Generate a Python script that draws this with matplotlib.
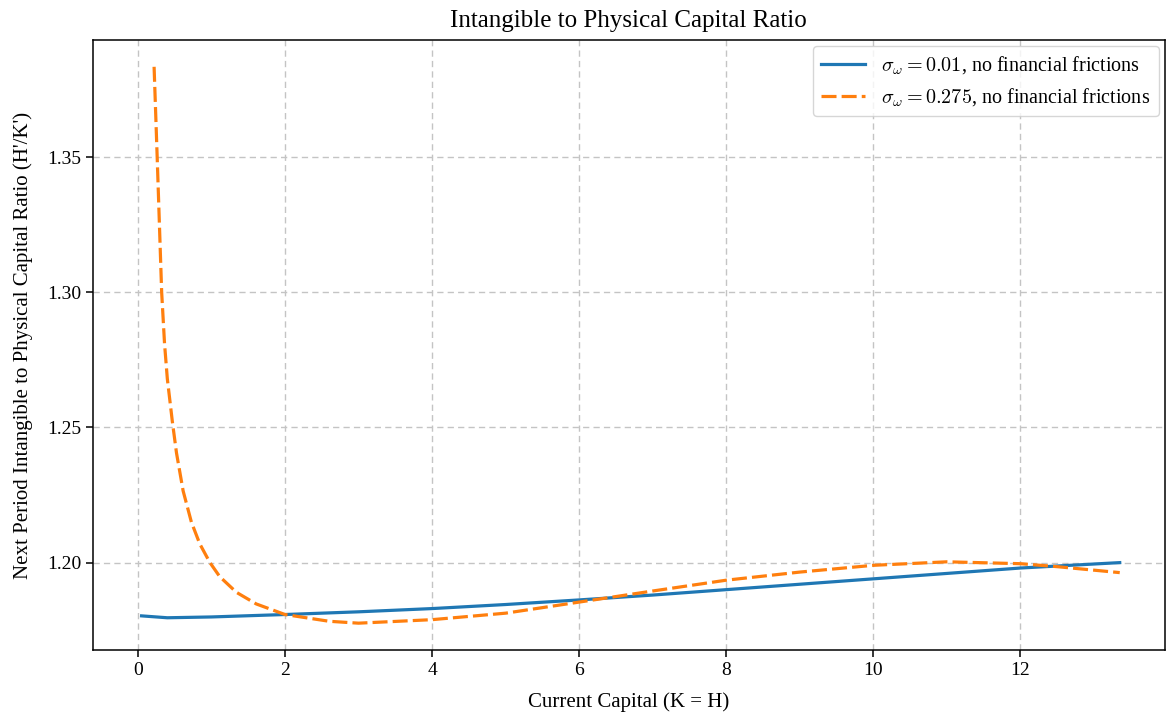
import numpy as np
import matplotlib
matplotlib.use("Agg")
import matplotlib.pyplot as plt

plt.rcParams['font.family'] = ['Liberation Serif', 'DejaVu Serif']
plt.rcParams['mathtext.fontset'] = 'cm'

# Current capital grid (K = H) and next-period H'/K'
k_low = [0.05, 0.4, 1.0, 2.0, 3.0, 4.0, 5.0, 6.0, 7.0, 8.0, 9.0, 10.0, 11.0, 12.0, 13.35]
ratio_low = [1.1803, 1.1796, 1.1799, 1.1808, 1.1818, 1.1830, 1.1845, 1.1862,
             1.1880, 1.1900, 1.1920, 1.1940, 1.1960, 1.1980, 1.2000]

k_high = [0.220, 0.262, 0.323, 0.362, 0.40, 0.469, 0.525, 0.615, 0.727, 0.84,
          0.977, 1.113, 1.34, 1.61, 2.0, 2.6, 3.0, 4.0, 5.0, 6.0, 7.0, 8.0,
          9.0, 10.0, 11.0, 12.0, 12.5, 13.35]
ratio_high = [1.3834, 1.350, 1.300, 1.281, 1.268, 1.252, 1.2405, 1.2265, 1.2150,
              1.2070, 1.2001, 1.1948, 1.1890, 1.1847, 1.1808, 1.1783, 1.1776,
              1.1789, 1.1813, 1.1854, 1.1895, 1.1935, 1.1965, 1.1990, 1.2003,
              1.1996, 1.1985, 1.1963]

fig = plt.figure(figsize=(11.66, 7.15), dpi=100)
ax = fig.add_axes([0.0798, 0.091, 0.919, 0.853])

ax.plot(k_low, ratio_low, color='#1f77b4', linewidth=2.3,
        label=r'$\sigma_\omega = 0.01$, no financial frictions')
ax.plot(k_high, ratio_high, color='#ff7f0e', linewidth=2.3, linestyle=(0, (4.7, 1.6)),
        label=r'$\sigma_\omega = 0.275$, no financial frictions')

ax.set_xlim(-0.61, 13.96)
ax.set_ylim(1.1677, 1.3933)
ax.set_xticks([0, 2, 4, 6, 8, 10, 12])
ax.set_yticks([1.20, 1.25, 1.30, 1.35])

ax.set_title('Intangible to Physical Capital Ratio', fontsize=18, pad=9.5)
ax.set_xlabel('Current Capital (K = H)', fontsize=15, labelpad=9.5)
ax.set_ylabel("Next Period Intangible to Physical Capital Ratio (H'/K')", fontsize=15,
              labelpad=10)
ax.tick_params(labelsize=14, width=1.1, length=5)
for s in ax.spines.values():
    s.set_linewidth(1.1)
ax.grid(True, linestyle=(0, (4.5, 3)), linewidth=1.0, color='#c4c4c4')
ax.legend(fontsize=14.5, loc='upper right', handlelength=2.2, borderaxespad=0.3)

fig.savefig('out.png', dpi=100)
